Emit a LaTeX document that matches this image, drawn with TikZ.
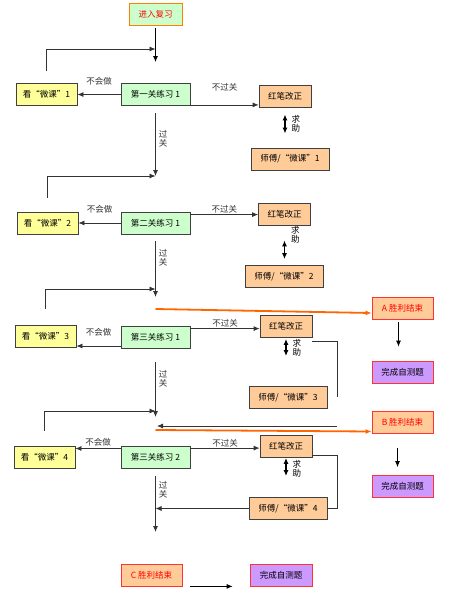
\documentclass[tikz,border=0pt]{standalone}
\usepackage{fontspec}
\setmainfont{Noto Sans CJK SC}
\usetikzlibrary{arrows.meta,positioning,calc}
\definecolor{lookfill}{HTML}{FFFF99}
\definecolor{taskfill}{HTML}{CCFFCC}
\definecolor{fixfill}{HTML}{FFCC99}
\definecolor{donefill}{HTML}{CC99FF}
\definecolor{winred}{HTML}{FF3333}
\definecolor{flow}{HTML}{FF6600}

\begin{document}
\begin{tikzpicture}[x=1pt,y=-1pt,font=\fontsize{8.5}{9}\selectfont, >={Latex[length=6pt,width=5pt]},
 box/.style={draw=black!75,line width=0.8pt,minimum height=22pt,inner sep=1pt},
 look/.style={box,fill=lookfill,minimum width=61pt},
 task/.style={box,fill=taskfill,minimum width=69pt},
 fix/.style={box,fill=fixfill,minimum width=52pt},
 tutor/.style={box,fill=fixfill,minimum width=78pt},
 win/.style={box,draw=winred,fill=fixfill,text=red,minimum width=61pt},
 done/.style={box,draw=winred,fill=donefill,minimum width=61pt},
 line/.style={->,line width=0.8pt,black!80},
 plain/.style={line width=0.8pt,black!80},
 help/.style={<->,line width=1.2pt,black},
 gold/.style={->,line width=1.8pt,flow},
 tag/.style={inner sep=1pt,align=center}]
\path[fill=white,use as bounding box] (0,0) rectangle (448,595);
% boxes
\node[box,draw=orange,fill=taskfill,text=red,minimum width=53pt] (start) at (155.5,14) {进入复习};
\node[look] (look1) at (46.5,94.5) {看“微课”1};
\node[task] (ex1) at (155.5,94.5) {第一关练习 1};
\node[fix] (red1) at (285,96) {红笔改正};
\node[tutor] (tut1) at (290,159) {师傅/“微课”1};
\node[look] (look2) at (47.5,223) {看“微课”2};
\node[task] (ex2) at (155.5,223) {第二关练习 1};
\node[fix] (red2) at (284.5,214) {红笔改正};
\node[tutor] (tut2) at (284,276.5) {师傅/“微课”2};
\node[look] (look3) at (45.5,336.5) {看“微课”3};
\node[task] (ex3) at (155.5,337) {第三关练习 1};
\node[fix] (red3) at (286,326.5) {红笔改正};
\node[tutor] (tut3) at (288,397.5) {师傅/“微课”3};
\node[look] (look4) at (44.5,457.5) {看“微课”4};
\node[task] (ex4) at (155.5,457.5) {第三关练习 2};
\node[fix] (red4) at (286,446.5) {红笔改正};
\node[tutor] (tut4) at (288,508.5) {师傅/“微课”4};
\node[win] (A) at (402.5,308) {A 胜利结束};
\node[done] (doneA) at (402.5,372) {完成自测题};
\node[win] (B) at (402.5,422.5) {B 胜利结束};
\node[done] (doneB) at (402.5,486.5) {完成自测题};
\node[win] (C) at (151.5,575) {C 胜利结束};
\node[done,minimum width=62pt] (doneC) at (281,575) {完成自测题};
% junctions on the main line
\coordinate (q1) at (155.5,49); \coordinate (q2) at (155.5,176);
\coordinate (q3) at (155.5,289); \coordinate (q4) at (155.5,411);
\coordinate (d1) at (155.5,62); \coordinate (d3) at (155.5,297);
\coordinate (d4) at (155.5,417); \coordinate (d5) at (155.5,532);
\coordinate (oa) at (155.5,309); \coordinate (ob) at (155.5,430);
\coordinate (k1) at (337,397); \coordinate (k2) at (337,426);
\coordinate (k3) at (157,426); \coordinate (k4) at (337,508.5);
% main line
\draw[line,black,shorten <=3pt] (start) -- (d1);
\foreach \a/\b/\g in {look1/q1/12pt,look2/q2/14pt,look3/q3/16pt,look4/q4/15pt}
 \draw[line,shorten <=\g] (\a.north) |- (\b);
\draw[line,shorten <=7pt] (ex1) -- node[tag,pos=.47,right=2pt]{过\\关} (q2);
\draw[line,shorten <=7pt] (ex2) -- node[tag,pos=.37,right=2pt]{过\\关} (d3);
\draw[line,shorten <=14pt] (ex3) -- node[tag,pos=.44,right=2pt]{过\\关} (d4);
\draw[line,shorten <=7pt] (ex4) -- node[tag,pos=.33,right=2pt]{过\\关} (d5);
% can't do it
\draw[line] (ex1) -- node[tag,above=8pt]{不会做} (look1);
\draw[line] (ex2) -- node[tag,above=8pt]{不会做} (look2);
\draw[line] ([yshift=-9pt]ex3.west) -- node[tag,above=8pt]{不会做} ([yshift=-9pt]ex3.west -| look3.east);
\draw[line] ([yshift=9pt]ex4.west) -- node[tag,above=1pt]{不会做} ([yshift=9pt]ex4.west -| look4.east);
% not passed
\draw[line] ([yshift=1pt]ex1.south east) -- node[tag,above=12pt]{不过关} ([yshift=1pt]ex1.south east -| red1.west);
\draw[line] ([yshift=-3pt]ex2.north east) -- node[tag,above]{不过关} ([yshift=-3pt]ex2.north east -| red2.west);
\draw[line] ([yshift=-3pt]ex3.north east) -- node[tag,above]{不过关} ([yshift=-3pt]ex3.north east -| red3.west);
\draw[line] ([yshift=-2pt]ex4.north east) -- node[tag,above]{不过关} ([yshift=-2pt]ex4.north east -| red4.west);
% ask for help
\draw[help,shorten <=7pt,shorten >=14pt] (red1.south) -- node[tag,pos=.41,right=5pt]{求\\助} (red1.south |- tut1.north);
\draw[help,shorten <=15pt,shorten >=6pt] (red2.south) -- node[tag,pos=.24,right=5pt]{求\\助} (red2.south |- tut2.north);
\draw[help,shorten <=1pt,shorten >=30pt] (red3.south) -- node[tag,pos=.21,right=5pt]{求\\助} (red3.south |- tut3.north);
\draw[help,shorten >=21pt] (red4.south) -- node[tag,pos=.29,right=5pt]{求\\助} (red4.south |- tut4.north);
% back to the main line
\draw[plain] ([yshift=-3pt]red3.south east) -| (k1);
\draw[line] (k2) -- (k3);
\draw[plain] ([yshift=3pt]red4.south east) -| (k4) -- (tut4.east);
\draw[line] (tut4) -- (tut4 -| d5);
% wins
\draw[gold] (oa) -- ([yshift=-5pt]A.west);
\draw[gold] (ob) -- ([yshift=-9pt]B.west);
\draw[line,black,shorten <=3pt,shorten >=14pt] ([xshift=-4pt]A.south) -- ([xshift=-4pt]doneA.north);
\draw[line,black,shorten <=14pt,shorten >=8pt] ([xshift=-5pt]B.south) -- ([xshift=-5pt]doneB.north);
\draw[line,black,shorten <=8pt,shorten >=17pt] (C.south east) -- (doneC.south west);
\end{tikzpicture}
\end{document}
